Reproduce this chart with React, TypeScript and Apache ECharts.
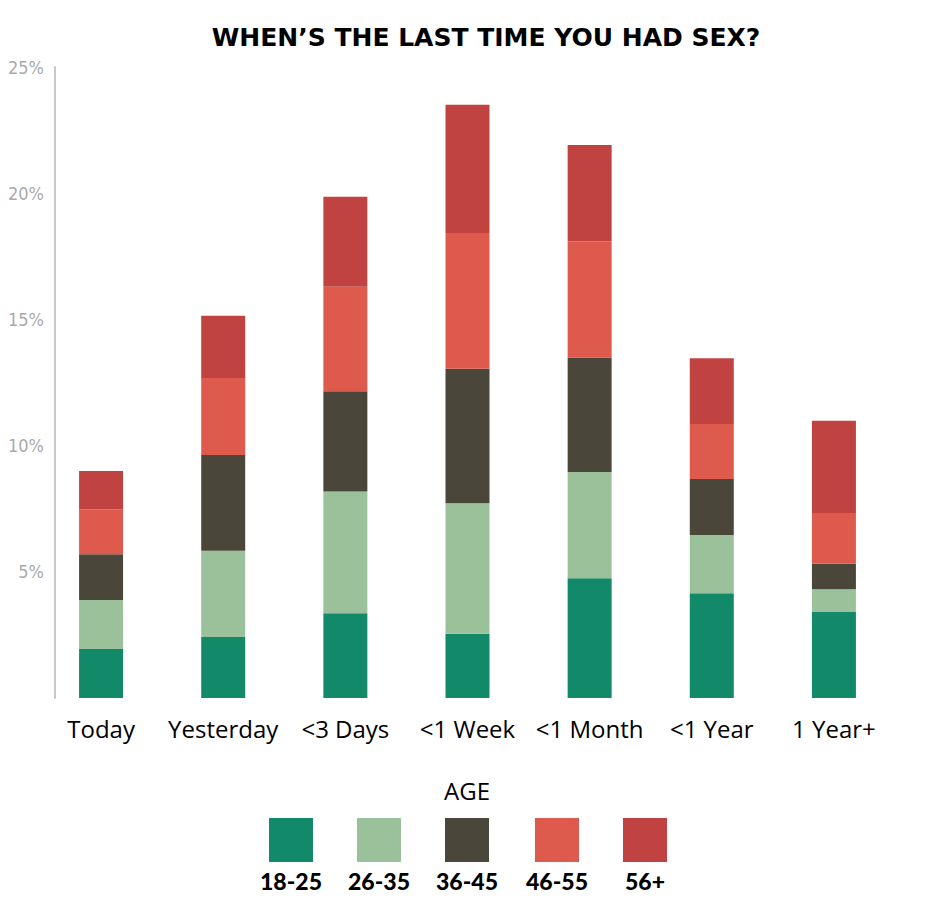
import React, { useEffect, useRef } from "react";
import * as echarts from "echarts";

const categories = ["Today", "Yesterday", "<3 Days", "<1 Week", "<1 Month", "<1 Year", "1 Year+"];
const ageGroups = ["18-25", "26-35", "36-45", "46-55", "56+"];
const colors = ["#128a6a", "#9bc19b", "#4a473a", "#dd5a4d", "#c04341"];
const age18_25 = [1.94, 2.42, 3.36, 2.55, 4.74, 4.15, 3.41];
const age26_35 = [1.94, 3.41, 4.82, 5.17, 4.21, 2.31, 0.9];
const age36_45 = [1.82, 3.8, 3.97, 5.32, 4.54, 2.22, 1.01];
const age46_55 = [1.78, 3.05, 4.14, 5.38, 4.6, 2.18, 2.01];
const age56plus = [1.51, 2.46, 3.57, 5.08, 3.82, 2.6, 3.65];
const yTicks = [0, 5, 10, 15, 20, 25];

const seriesValues = [age18_25, age26_35, age36_45, age46_55, age56plus];

export default function App() {
  const ref = useRef<HTMLDivElement>(null);
  useEffect(() => {
    if (!ref.current) return;
    const chart = echarts.init(ref.current, null, { renderer: "svg" });
    const legendX = [291, 379, 467, 557, 645];
    const legendGraphics: any[] = [];
    ageGroups.forEach((name, i) => {
      legendGraphics.push({
        type: "rect",
        shape: { x: legendX[i] - 22 - 8, y: 818 - 8, width: 44, height: 44 },
        style: { fill: colors[i] },
      });
      legendGraphics.push({
        type: "text",
        x: legendX[i] - 8,
        y: 881 - 8,
        style: {
          text: name,
          fill: "#000",
          font: "900 23px Lato, 'DejaVu Sans', sans-serif",
          align: "center",
          verticalAlign: "middle",
        },
      });
    });
    legendGraphics.push({
      type: "text",
      x: 467 - 8,
      y: 790 - 8,
      style: {
        text: "AGE",
        fill: "#000",
        font: "24px 'Open Sans', sans-serif",
        align: "center",
        verticalAlign: "middle",
      },
    });
    chart.setOption({
      animation: false,
      title: {
        text: "WHEN’S THE LAST TIME YOU HAD SEX?",
        left: 473,
        top: 12,
        textAlign: "center",
        textStyle: {
          fontFamily: "'DejaVu Sans', sans-serif",
          fontWeight: "bold",
          fontSize: 25,
          color: "#000",
        },
      },
      grid: { left: 32, top: 59, width: 855, height: 631, outerBoundsMode: "none", containLabel: false },
      xAxis: {
        type: "category",
        data: categories,
        axisLine: { show: false },
        axisTick: { show: false },
        axisLabel: {
          color: "#000",
          fontSize: 24,
          fontFamily: "'Open Sans', Lato, sans-serif",
          margin: 18,
          interval: 0,
        },
      },
      yAxis: {
        type: "value",
        min: yTicks[0],
        max: yTicks[yTicks.length - 1],
        interval: 5,
        offset: -15,
        axisLine: { show: true, lineStyle: { color: "#c8c8c8", width: 2 } },
        axisTick: { show: false },
        splitLine: { show: false },
        axisLabel: {
          color: "#aaaaaa",
          fontSize: 18,
          fontFamily: "'DejaVu Sans Condensed', 'Liberation Sans Narrow', sans-serif",
          margin: 11,
          formatter: (v: number) => (v === 0 ? "" : v + "%"),
        },
      },
      series: seriesValues.map((vals, i) => ({
        name: ageGroups[i],
        type: "bar",
        stack: "total",
        data: vals,
        barWidth: 44,
        itemStyle: { color: colors[i] },
      })),
      graphic: legendGraphics,
    });
    return () => chart.dispose();
  }, []);
  return <div ref={ref} style={{ width: 918, height: 900 }} />;
}
